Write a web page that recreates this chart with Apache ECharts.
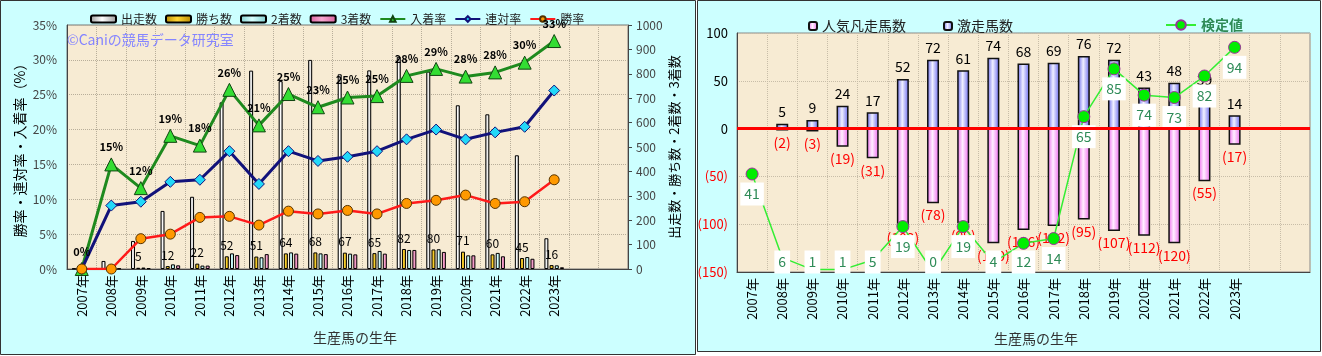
<!DOCTYPE html>
<html><head><meta charset="utf-8">
<script src="https://cdn.jsdelivr.net/npm/echarts@6/dist/echarts.min.js"></script>
<style>html,body{margin:0;padding:0;background:#fff}#c{width:1322px;height:356px}</style>
</head><body><div id="c"></div>
<script>
// ---- data ----
const years = ['2007年','2008年','2009年','2010年','2011年','2012年','2013年','2014年','2015年','2016年','2017年','2018年','2019年','2020年','2021年','2022年','2023年'];
const starts   = [2,33,115,238,296,683,813,770,857,798,814,870,809,671,634,466,126];
const wins     = [0,0,5,12,22,52,51,64,68,67,65,82,80,71,60,45,16];
const seconds  = [0,3,6,19,14,64,48,68,64,63,74,78,81,56,66,49,15];
const thirds   = [0,2,3,15,14,57,61,63,61,60,63,78,70,56,52,42,7];
const placeRate    = [0,15.0,11.6,19.1,17.7,25.7,20.6,25.1,23.2,24.6,24.8,27.7,28.7,27.6,28.2,29.6,32.7];
const quinellaRate = [0,9.1,9.65,12.5,12.8,16.9,12.2,16.9,15.5,16.1,16.9,18.6,20.0,18.6,19.6,20.4,25.6];
const winRate      = [0,0,4.35,5.0,7.4,7.55,6.3,8.3,7.9,8.4,7.9,9.4,9.85,10.6,9.4,9.65,12.8];
const surgeCount = [0,5,9,24,17,52,72,61,74,68,69,76,72,43,48,39,14];
const flopCount  = [0,-2,-3,-19,-31,-102,-78,-99,-120,-106,-102,-95,-107,-112,-120,-55,-17];
const testValue  = [41,6,1,1,5,19,0,19,4,12,14,65,85,74,73,82,94];
const leftTicks = [0,5,10,15,20,25,30,35];
const rightTicks = [-150,-100,-50,0,50,100];

// ---- layout / style ----
const FONT = '"Noto Sans CJK JP","Noto Sans",sans-serif';
const cats = years.concat(['','']);
const G1 = {left:67, top:25, width:561, height:244};
const G2 = {left:737, top:33, width:573, height:239};
const LG = echarts.graphic.LinearGradient;
function cyl(edge, mid){ return new LG(0,0,1,0,[{offset:0,color:edge},{offset:0.45,color:mid},{offset:1,color:edge}]); }

// label boxes sit below each point, but never below the plot floor (they then hide the marker)
const testData = testValue.map(v => {
  const py = G2.top + (1 - v/100) * G2.height;
  const ly = Math.min(py + 20, G2.top + G2.height - 10);
  const covered = (ly - py) < 12;
  return {value: v, symbolSize: covered ? 0 : 12, label: {offset: [0, ly - py]}};
});

const chart = echarts.init(document.getElementById('c'));
chart.setOption({
  animation: false,
  textStyle: {fontFamily: FONT},
  graphic: [
    {type:'rect', z:-100, shape:{x:0.5,y:0.5,width:695,height:354}, style:{fill:'#CCFFFF', stroke:'#333', lineWidth:1}},
    {type:'rect', z:-100, shape:{x:697.5,y:0.5,width:623,height:351}, style:{fill:'#CCFFFF', stroke:'#333', lineWidth:1}},
    {type:'text', z:100, left:67, top:33, style:{text:'©Caniの競馬データ研究室', fill:'#8585FF', font:'14px '+FONT}}
  ],
  legend: [
    {data:['出走数','勝ち数','2着数','3着数','入着率','連対率','勝率'], left:85, top:8, itemWidth:25, itemHeight:7, itemGap:8,
     textStyle:{fontSize:12, color:'#222'}},
    {data:['人気凡走馬数','激走馬数'], left:803, top:14, itemWidth:8, itemHeight:8, itemGap:37,
     textStyle:{fontSize:14, color:'#222'}},
    {data:['検定値'], left:1160, top:13, itemWidth:30, itemHeight:12, textStyle:{fontSize:14, color:'#2E8B57', fontWeight:'bold'}}
  ],
  grid: [
    Object.assign({show:true, backgroundColor:'#F7EBD3', borderColor:'#777', borderWidth:1}, G1),
    Object.assign({show:true, backgroundColor:'#F7EBD3', borderColor:'#888', borderWidth:1}, G2)
  ],
  xAxis: [
    {type:'category', gridIndex:0, data:cats, axisTick:{show:false},
     axisLine:{lineStyle:{color:'#444'}},
     axisLabel:{rotate:90, fontSize:13, color:'#000', margin:6, interval:0},
     splitLine:{show:true, interval:0, lineStyle:{type:'dotted', color:'#B8AE9A'}},
     name:'生産馬の生年', nameLocation:'middle', nameGap:62, nameTextStyle:{fontSize:14, color:'#333', padding:[0,0,0,15]}},
    {type:'category', gridIndex:1, data:cats, axisTick:{show:false},
     axisLine:{onZero:false, lineStyle:{color:'#444'}},
     axisLabel:{rotate:90, fontSize:13, color:'#000', margin:6, interval:0},
     splitLine:{show:true, interval:0, lineStyle:{type:'dotted', color:'#C8BDA8'}},
     name:'生産馬の生年', nameLocation:'middle', nameGap:60, nameTextStyle:{fontSize:14, color:'#333', padding:[0,0,0,25]}}
  ],
  yAxis: [
    {type:'value', gridIndex:0, min:leftTicks[0], max:leftTicks[leftTicks.length-1], interval:5,
     axisLine:{show:true, lineStyle:{color:'#444'}}, axisTick:{show:false},
     axisLabel:{formatter:'{value}%', fontSize:12, color:'#444', margin:10},
     splitLine:{lineStyle:{type:'dotted', color:'#B8AE9A'}},
     name:'勝率・連対率・入着率（%）', nameLocation:'middle', nameGap:40, nameTextStyle:{fontSize:14, color:'#000'}},
    {type:'value', gridIndex:0, position:'right', min:0, max:1000, interval:100,
     axisLine:{show:true, lineStyle:{color:'#444'}}, axisTick:{show:true, length:4, lineStyle:{color:'#444'}},
     axisLabel:{fontSize:12, color:'#444', margin:8, formatter:v => String(v)}, splitLine:{show:false},
     name:'出走数・勝ち数・2着数・3着数', nameLocation:'middle', nameRotate:90, nameGap:40, nameTextStyle:{fontSize:13, color:'#000'}},
    {type:'value', gridIndex:1, min:rightTicks[0], max:rightTicks[rightTicks.length-1], interval:50,
     axisLine:{show:true, lineStyle:{color:'#444'}}, axisTick:{show:false},
     axisLabel:{fontSize:13, margin:9, formatter:v => v < 0 ? '(' + (-v) + ')' : String(v), color:v => v < 0 ? '#FF0000' : '#000'},
     splitLine:{lineStyle:{type:'dotted', color:'#C8BDA8'}}},
    {type:'value', gridIndex:1, min:0, max:100, show:false, splitLine:{show:false}}
  ],
  series: [
    {name:'出走数', type:'bar', xAxisIndex:0, yAxisIndex:1, data:starts, barWidth:4, barGap:'30%',
     itemStyle:{color:cyl('#9a9a9a','#ffffff'), borderColor:'#000', borderWidth:1}},
    {name:'勝ち数', type:'bar', xAxisIndex:0, yAxisIndex:1, data:wins, barWidth:4, barGap:'30%',
     itemStyle:{color:cyl('#B88A00','#FFD633'), borderColor:'#000', borderWidth:1},
     label:{show:true, position:'top', distance:5, fontSize:12, color:'#000', formatter:p => p.value ? p.value : ''}},
    {name:'2着数', type:'bar', xAxisIndex:0, yAxisIndex:1, data:seconds, barWidth:4, barGap:'30%',
     itemStyle:{color:cyl('#7FCFCF','#D8FFFF'), borderColor:'#000', borderWidth:1}},
    {name:'3着数', type:'bar', xAxisIndex:0, yAxisIndex:1, data:thirds, barWidth:4, barGap:'30%',
     itemStyle:{color:cyl('#D9609F','#F7A8D0'), borderColor:'#000', borderWidth:1}},
    {name:'入着率', type:'line', xAxisIndex:0, yAxisIndex:0, data:placeRate, z:5,
     lineStyle:{color:'#1E8A1E', width:3}, itemStyle:{color:'#33DD33', borderColor:'#114411', borderWidth:1},
     symbol:'triangle', symbolSize:13,
     label:{show:true, position:'top', distance:5, fontSize:11, fontWeight:'bold', color:'#000', formatter:p => Math.round(p.value) + '%'}},
    {name:'連対率', type:'line', xAxisIndex:0, yAxisIndex:0, data:quinellaRate, z:5,
     lineStyle:{color:'#12127A', width:3}, itemStyle:{color:'#22D8F8', borderColor:'#12127A', borderWidth:1},
     symbol:'diamond', symbolSize:11},
    {name:'勝率', type:'line', xAxisIndex:0, yAxisIndex:0, data:winRate, z:5,
     lineStyle:{color:'#FF1A1A', width:2.5}, itemStyle:{color:'#FF9900', borderColor:'#553300', borderWidth:1},
     symbol:'circle', symbolSize:10},

    {name:'人気凡走馬数', type:'bar', xAxisIndex:1, yAxisIndex:2, data:flopCount, barWidth:12, barGap:'-100%',
     itemStyle:{color:cyl('#EE66EE','#FFEEFF'), borderColor:'#111', borderWidth:1.5},
     label:{show:true, position:'bottom', distance:5, fontSize:14, color:'#FF0000', formatter:p => p.value ? '(' + (-p.value) + ')' : ''}},
    {name:'激走馬数', type:'bar', xAxisIndex:1, yAxisIndex:2, data:surgeCount, barWidth:12, barGap:'-100%',
     itemStyle:{color:cyl('#6666EE','#F0F0FF'), borderColor:'#111', borderWidth:1.5},
     label:{show:true, position:'top', distance:5, fontSize:14, color:'#000', formatter:p => p.value ? p.value : ''},
     markLine:{silent:true, symbol:'none', z:10, label:{show:false}, lineStyle:{color:'#FF0000', width:3, type:'solid'}, data:[{yAxis:0}]}},
    {name:'検定値', type:'line', xAxisIndex:1, yAxisIndex:3, data:testData, z:8,
     lineStyle:{color:'#33EE33', width:1.5}, itemStyle:{color:'#00EE00', borderColor:'#993399', borderWidth:1},
     symbol:'circle', symbolSize:12,
     label:{show:true, position:'inside', fontSize:14, color:'#2E8B57', backgroundColor:'#fff', padding:[5,4,4,4]}}
  ]
});
</script></body></html>
